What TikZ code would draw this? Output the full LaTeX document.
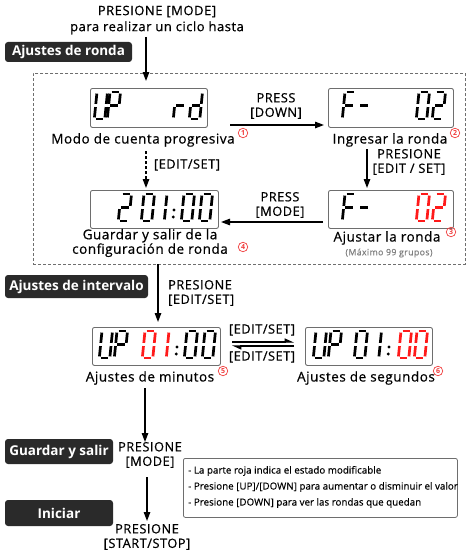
\documentclass[tikz,border=0pt]{standalone}
\usepackage{fontspec}
\setmainfont{Open Sans}
\newfontfamily\medf{Open Sans}[FakeBold=0.6, LetterSpace=4]
\newfontfamily\notef{Open Sans}[FakeBold=0.4]
\usetikzlibrary{arrows.meta}
\definecolor{segred}{HTML}{FF1A1A}
\definecolor{darkbox}{HTML}{2A2A2A}
\definecolor{numred}{HTML}{F03C3C}
\definecolor{boxgray}{HTML}{6E6E6E}

% seven-segment paths, origin = top-left, y down, w=10.5, h=27
\def\SEGa{(1.6,0)--(8.9,0)}
\def\SEGb{(10.5,1.6)--(10.5,11.9)}
\def\SEGc{(10.5,15.1)--(10.5,25.4)}
\def\SEGd{(1.6,27)--(8.9,27)}
\def\SEGe{(0,15.1)--(0,25.4)}
\def\SEGf{(0,1.6)--(0,11.9)}
\def\SEGg{(1.6,13.5)--(8.9,13.5)}

\newcommand\sevdigit[4]{%
  \begin{scope}[shift={(#1,#2)},xslant=0.1]
    \foreach \s in {#3}{%
      \edef\tmpseg{\noexpand\draw[segline,#4] \csname SEG\s\endcsname;}\tmpseg}
  \end{scope}}
\newcommand\sevcolon[3]{%
  \fill[#3] (#1,#2+16) circle[radius=1.6pt];
  \fill[#3] (#1-0.7,#2+23) circle[radius=1.6pt];}

\tikzset{
  segline/.style={line width=2.7pt, line cap=butt},
  disp/.style={draw=boxgray, line width=0.9pt, rounded corners=2pt, rectangle, inner sep=0pt, anchor=north west},
  tag/.style={fill=darkbox, rounded corners=3pt, text=white, font=\bfseries\fontsize{13.5}{15}\selectfont, inner sep=0pt},
  arr/.style={line width=1.3pt, -{Triangle[length=9pt,width=6.5pt]}},
  darr/.style={line width=1.3pt, dashed, dash pattern=on 3pt off 2pt, -{Triangle[length=9pt,width=6.5pt]}},
  harp/.style={line width=1.1pt, -{Triangle[length=8pt,width=7pt,harpoon]}},
  lbl/.style={font=\medf\fontsize{13.5}{14.5}\selectfont, inner sep=0pt, align=center},
  btn/.style={font=\medf\fontsize{12.8}{14.5}\selectfont, align=center, inner sep=0pt},
  note/.style={font=\notef\fontsize{9.8}{16}\selectfont, align=left, inner sep=0pt, anchor=west},
  cnum/.style={circle, draw=numred, line width=0.7pt, text=numred, inner sep=0pt, minimum size=9.5pt, font=\bfseries\fontsize{7}{7}\selectfont},
}

\begin{document}
\begin{tikzpicture}[x=1pt,y=-1pt]
\useasboundingbox (0,0) rectangle (467,551);

% top text
\node[btn, font=\medf\fontsize{13}{16}\selectfont] (top) at (157,20) {PRESIONE [MODE]\\para realizar un ciclo hasta};
\node[tag, minimum width=127pt, minimum height=20pt] (t1) at (68.5,52) {Ajustes de ronda};

% dashed frame
\node[draw=boxgray, dashed, dash pattern=on 3pt off 2pt, line width=0.9pt, rectangle, inner sep=0pt, anchor=north west, minimum width=432pt, minimum height=191pt] (frame) at (33,73) {};

% displays
\node[disp, minimum width=117pt, minimum height=39pt] (d1) at (90,88) {};
\node[disp, minimum width=125pt, minimum height=39pt] (d2) at (328,88) {};
\node[disp, minimum width=128pt, minimum height=38pt] (d3) at (90,190) {};
\node[disp, minimum width=125pt, minimum height=38pt] (d4) at (328,190) {};
\node[disp, minimum width=128pt, minimum height=38pt] (d5) at (92,327) {};
\node[disp, minimum width=127pt, minimum height=38pt] (d6) at (305,327) {};

% display 1: UP rd
\sevdigit{97}{92}{b,c,d,e,f}{black}
\sevdigit{110}{92}{a,b,e,f,g}{black}
\sevdigit{176}{92}{e,g}{black}
\sevdigit{192}{92}{b,c,d,e,g}{black}
% display 2: F- 02
\sevdigit{345}{92}{a,e,f,g}{black}
\sevdigit{360}{92}{g}{black}
\sevdigit{419}{92}{a,b,c,d,e,f}{black}
\sevdigit{435}{92}{a,b,g,e,d}{black}
% display 3: 2 01:00
\sevdigit{121}{194}{a,b,g,e,d}{black}
\sevdigit{144}{194}{a,b,c,d,e,f}{black}
\sevdigit{156.5}{194}{b,c}{black}
\sevcolon{174}{194}{black}
\sevdigit{184}{194}{a,b,c,d,e,f}{black}
\sevdigit{202}{194}{a,b,c,d,e,f}{black}
% display 4: F- 02 (red)
\sevdigit{345}{194}{a,e,f,g}{black}
\sevdigit{360}{194}{g}{black}
\sevdigit{419}{194}{a,b,c,d,e,f}{segred}
\sevdigit{435}{194}{a,b,g,e,d}{segred}
% display 5: UP 01:00 (01 red)
\sevdigit{102}{331}{b,c,d,e,f}{black}
\sevdigit{117}{331}{a,b,e,f,g}{black}
\sevdigit{145}{331}{a,b,c,d,e,f}{segred}
\sevdigit{158.5}{331}{b,c}{segred}
\sevcolon{177}{331}{black}
\sevdigit{187}{331}{a,b,c,d,e,f}{black}
\sevdigit{205}{331}{a,b,c,d,e,f}{black}
% display 6: UP 01:00 (00 red)
\sevdigit{316}{331}{b,c,d,e,f}{black}
\sevdigit{331}{331}{a,b,e,f,g}{black}
\sevdigit{357}{331}{a,b,c,d,e,f}{black}
\sevdigit{371}{331}{b,c}{black}
\sevcolon{389}{331}{black}
\sevdigit{401}{331}{a,b,c,d,e,f}{segred}
\sevdigit{417}{331}{a,b,c,d,e,f}{segred}

% labels
\node[lbl] (l1) at (143,140) {Modo de cuenta progresiva};
\node[cnum] (c1) at (243,133) {1};
\node[lbl] (l2) at (390,140) {Ingresar la ronda};
\node[cnum] (c2) at (455,133) {2};
\node[lbl] (l4) at (150,243) {Guardar y salir de la\\configuración de ronda};
\node[cnum] (c4) at (243,247) {4};
\node[lbl] (l3) at (387,238) {Ajustar la ronda};
\node[cnum] (c3) at (451,232) {3};
\node[inner sep=0pt, font=\medf\fontsize{8.8}{9}\selectfont, text=gray] (max) at (389,253) {(Máximo 99 grupos)};
\node[lbl] (l5) at (150,378) {Ajustes de minutos};
\node[cnum] (c5) at (223,371) {5};
\node[lbl] (l6) at (366,378) {Ajustes de segundos};
\node[cnum] (c6) at (438,371) {6};

% button labels
\node[btn] (bdown) at (276,106) {PRESS\\{[DOWN]}};
\node[btn] (bedit1) at (187,165) {[EDIT/SET]};
\node[btn] (bedit2) at (409,162) {PRESIONE\\{[EDIT / SET]}};
\node[btn] (bmode1) at (280,205) {PRESS\\{[MODE]}};
\node[btn, anchor=west, align=left] (bedit3) at (168,293) {PRESIONE\\{[EDIT/SET]}};
\node[btn] (be4) at (262,330) {[EDIT/SET]};
\node[btn] (be5) at (262,357) {[EDIT/SET]};
\node[btn] (bmode2) at (150,455) {PRESIONE\\{[MODE]}};
\node[btn] (bstart) at (147,537) {PRESIONE\\{[START/STOP]}};

% tags
\node[tag, minimum width=143pt, minimum height=23pt] (t2) at (76.5,286.5) {Ajustes de intervalo};
\node[tag, minimum width=108pt, minimum height=25pt] (t3) at (59,451.5) {Guardar y salir};
\node[tag, minimum width=108pt, minimum height=26pt] (t4) at (59,513) {Iniciar};

% note box
\node[draw=boxgray, line width=0.8pt, rounded corners=2pt, rectangle, inner sep=0pt, anchor=north west, minimum width=274pt, minimum height=59pt] (nb) at (183,458) {};
\node[note] (n1) at (188,471) {- La parte roja indica el estado modificable};
\node[note] (n2) at (188,487) {- Presione [UP]/[DOWN] para aumentar o disminuir el valor};
\node[note] (n3) at (188,503) {- Presione [DOWN] para ver las rondas que quedan};

% connector end points
\coordinate (a0s) at (146,37);
\coordinate (a0e) at (146,81);
\coordinate (a1s) at (230,125);
\coordinate (a1e) at (324,125);
\coordinate (a2s) at (146,151);
\coordinate (a2e) at (146,188);
\coordinate (a3s) at (367,149);
\coordinate (a3e) at (367,188);
\coordinate (a4s) at (323,222);
\coordinate (a4e) at (221,222);
\coordinate (a5s) at (158,264);
\coordinate (a5e) at (158,322);
\coordinate (a6s) at (145,388);
\coordinate (a6e) at (145,442);
\coordinate (a7s) at (147,477);
\coordinate (a7e) at (147,521);
\coordinate (h1s) at (232,342);
\coordinate (h1e) at (294,342);
\coordinate (h2s) at (294,346);
\coordinate (h2e) at (232,346);

\draw[arr] (a0s) -- (a0e);
\draw[arr] (a1s) -- (a1e);
\draw[darr] (a2s) -- (a2e);
\draw[arr] (a3s) -- (a3e);
\draw[arr] (a4s) -- (a4e);
\draw[arr] (a5s) -- (a5e);
\draw[arr] (a6s) -- (a6e);
\draw[arr] (a7s) -- (a7e);
\draw[harp] (h1s) -- (h1e);
\draw[harp] (h2s) -- (h2e);
\end{tikzpicture}
\end{document}
